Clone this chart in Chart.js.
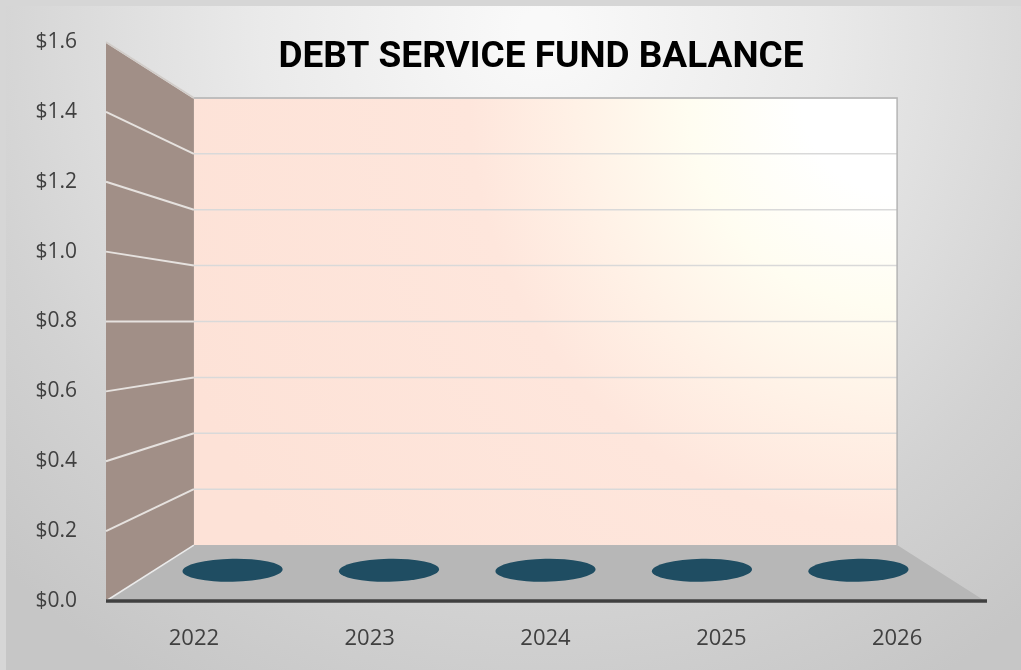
<!DOCTYPE html>
<html>
<head>
<meta charset="utf-8">
<script src="https://cdn.jsdelivr.net/npm/chart.js@4/dist/chart.umd.min.js"></script>
<style>
html,body{margin:0;padding:0;background:#d4d4d4;}
#wrap{width:1021px;height:670px;}
</style>
</head>
<body>
<div id="wrap"><canvas id="c" width="1021" height="670"></canvas></div>
<script>
const chartTitle = 'DEBT SERVICE FUND BALANCE';
const categories = ['2022', '2023', '2024', '2025', '2026'];
const balances = [0, 0, 0, 0, 0];
const yMin = 0;
const yMax = 1.6;
const yStep = 0.2;

const BACK_SCALE = 0.8;   // perspective scale of the back wall
const BAR_DEPTH = 0.55;   // bars sit about half-way into the depth

function proj(area, x, y, depth) {
  const cx = (area.left + area.right) / 2;
  const cy = (area.top + area.bottom) / 2;
  const s = 1 - (1 - BACK_SCALE) * depth;
  return { x: cx + s * (x - cx), y: cy + s * (y - cy), s: s };
}

const scene3d = {
  id: 'scene3d',
  beforeDraw(chart) {
    const ctx = chart.ctx;
    const W = chart.width, H = chart.height;
    ctx.save();
    ctx.fillStyle = '#d6d6d6';
    ctx.fillRect(0, 0, W, H);
    const g = ctx.createRadialGradient(540, 30, 20, 540, 30, 760);
    g.addColorStop(0, '#f9f9f9');
    g.addColorStop(0.35, '#eaeaea');
    g.addColorStop(0.75, '#d2d2d2');
    g.addColorStop(1, '#c6c6c6');
    ctx.fillStyle = g;
    ctx.fillRect(6, 6, W - 6, H - 6);
    ctx.restore();
  },
  beforeDatasetsDraw(chart) {
    const ctx = chart.ctx;
    const a = chart.chartArea;
    const ys = chart.scales.y;
    const y0 = ys.getPixelForValue(yMin);
    const y1 = ys.getPixelForValue(yMax);
    const fl = proj(a, a.left, y1, 0), bl = proj(a, a.left, y1, 1);
    const fb = proj(a, a.left, y0, 0), bb = proj(a, a.left, y0, 1);
    const fr = proj(a, a.right, y0, 0), br = proj(a, a.right, y0, 1);
    const btr = proj(a, a.right, y1, 1);
    ctx.save();
    // back wall
    const g = ctx.createRadialGradient(btr.x, btr.y, 5, btr.x, btr.y, 760);
    g.addColorStop(0, '#ffffff');
    g.addColorStop(0.12, '#ffffff');
    g.addColorStop(0.27, '#fffdf1');
    g.addColorStop(0.42, '#fff1e6');
    g.addColorStop(0.56, '#fee6dc');
    g.addColorStop(1, '#fde2d7');
    ctx.fillStyle = g;
    ctx.fillRect(bl.x, bl.y, btr.x - bl.x, bb.y - bl.y);
    // left wall
    ctx.fillStyle = '#a18f87';
    ctx.beginPath();
    ctx.moveTo(fl.x, fl.y); ctx.lineTo(bl.x, bl.y); ctx.lineTo(bb.x, bb.y); ctx.lineTo(fb.x, fb.y);
    ctx.closePath(); ctx.fill();
    // floor
    ctx.fillStyle = '#b7b7b7';
    ctx.beginPath();
    ctx.moveTo(fb.x, fb.y); ctx.lineTo(bb.x, bb.y); ctx.lineTo(br.x, br.y); ctx.lineTo(fr.x, fr.y);
    ctx.closePath(); ctx.fill();
    // gridlines
    for (let v = yMin + yStep; v <= yMax + 1e-9; v += yStep) {
      const yp = ys.getPixelForValue(v);
      const f = proj(a, a.left, yp, 0), b = proj(a, a.left, yp, 1), r = proj(a, a.right, yp, 1);
      ctx.strokeStyle = '#d9d9d9';
      ctx.lineWidth = 1.5;
      ctx.beginPath(); ctx.moveTo(b.x, b.y); ctx.lineTo(r.x, r.y); ctx.stroke();
      ctx.strokeStyle = '#e6e2df';
      ctx.lineWidth = 2;
      ctx.beginPath(); ctx.moveTo(f.x, f.y); ctx.lineTo(b.x, b.y); ctx.stroke();
    }
    // back wall edges
    ctx.strokeStyle = '#b4b4b4';
    ctx.lineWidth = 1.5;
    ctx.beginPath(); ctx.moveTo(bl.x, bl.y); ctx.lineTo(btr.x, btr.y); ctx.lineTo(br.x, br.y); ctx.stroke();
    ctx.strokeStyle = '#ebebeb';
    ctx.lineWidth = 1.5;
    ctx.beginPath(); ctx.moveTo(fb.x, fb.y); ctx.lineTo(bb.x, bb.y); ctx.stroke();
    ctx.strokeStyle = '#d0ccc9';
    ctx.beginPath(); ctx.moveTo(fl.x, fl.y); ctx.lineTo(bl.x, bl.y); ctx.stroke();
    // front floor edge
    ctx.strokeStyle = '#404040';
    ctx.lineWidth = 3.5;
    ctx.beginPath(); ctx.moveTo(fb.x, fb.y); ctx.lineTo(fr.x + 2, fr.y); ctx.stroke();
    ctx.restore();
  },
  afterDatasetsDraw(chart) {
    const ctx = chart.ctx;
    const a = chart.chartArea;
    const ys = chart.scales.y;
    const meta = chart.getDatasetMeta(0);
    const catW = (a.right - a.left) / categories.length;
    ctx.save();
    meta.data.forEach((el, i) => {
      const base = proj(a, el.x, ys.getPixelForValue(0), BAR_DEPTH);
      const top = proj(a, el.x, ys.getPixelForValue(balances[i]), BAR_DEPTH);
      const rx = catW * 0.64 / 2 * base.s;
      const ry = 11.5;
      ctx.fillStyle = '#1f4d62';
      ctx.beginPath();
      ctx.ellipse(base.x, base.y, rx, ry, -0.02, 0, Math.PI * 2);
      ctx.fill();
      if (top.y < base.y - 0.5) {
        ctx.fillRect(base.x - rx, top.y, rx * 2, base.y - top.y);
        ctx.fillStyle = '#2b6580';
        ctx.beginPath();
        ctx.ellipse(top.x, top.y, rx, ry, -0.02, 0, Math.PI * 2);
        ctx.fill();
      }
    });
    ctx.restore();
  },
  afterDraw(chart) {
    const ctx = chart.ctx;
    ctx.save();
    ctx.fillStyle = '#000000';
    ctx.font = 'bold 37px Roboto';
    ctx.textAlign = 'center';
    ctx.textBaseline = 'alphabetic';
    ctx.fillText(chartTitle, 541, 67);
    ctx.restore();
  }
};

new Chart(document.getElementById('c'), {
  type: 'bar',
  data: {
    labels: categories,
    datasets: [{ data: balances, backgroundColor: 'rgba(0,0,0,0)', borderWidth: 0 }]
  },
  options: {
    responsive: false,
    animation: false,
    layout: { padding: { top: 42, right: 36, left: 0, bottom: 0 } },
    plugins: { legend: { display: false }, tooltip: { enabled: false }, title: { display: false } },
    scales: {
      y: {
        min: yMin, max: yMax,
        ticks: {
          stepSize: yStep,
          callback: v => '$' + Number(v).toFixed(1),
          font: { family: 'Open Sans', size: 21 },
          color: '#404040',
          padding: 21
        },
        grid: { display: false },
        border: { display: false },
        afterFit: s => { s.width = 106; }
      },
      x: {
        ticks: { font: { family: 'Open Sans', size: 22 }, color: '#404040', padding: 17 },
        grid: { display: false },
        border: { display: false },
        afterFit: s => { s.height = 69; }
      }
    }
  },
  plugins: [scene3d]
});
</script>
</body>
</html>
